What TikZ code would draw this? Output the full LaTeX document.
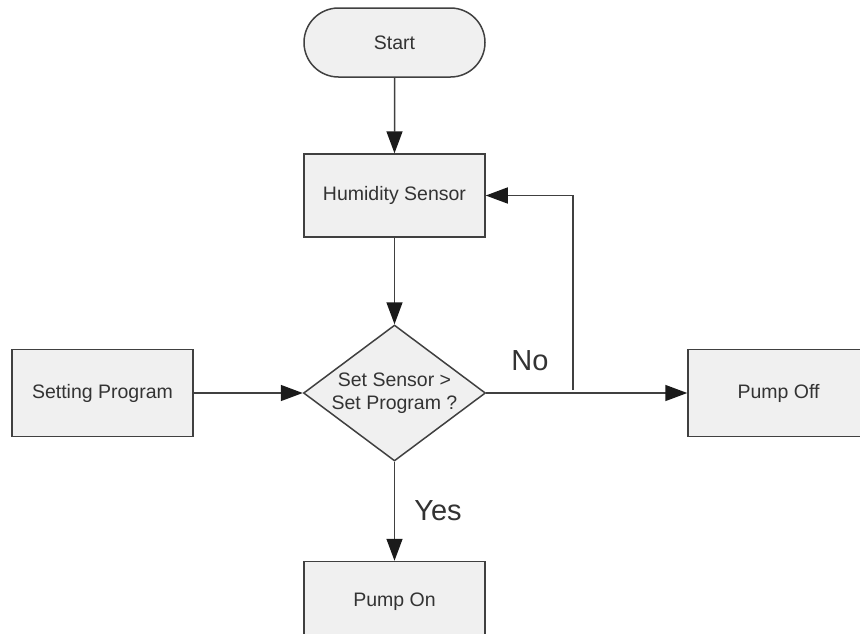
\documentclass[tikz,border=0pt]{standalone}
\usepackage{fontspec}
\setmainfont{Liberation Sans}
\usetikzlibrary{arrows.meta, shapes.geometric, shapes.misc}

\definecolor{boxfill}{HTML}{F0F0F0}
\definecolor{edgegray}{HTML}{404040}
\definecolor{tipgray}{HTML}{1A1A1A}
\definecolor{textgray}{HTML}{333333}

\begin{document}
\begin{tikzpicture}[x = 1pt, y = -1pt,
  box/.style = {draw = edgegray, fill = boxfill, line width = 1.5pt, inner sep = 0pt,
    minimum width = \boxW, minimum height = \boxH, text = textgray,
    font = \fontsize{19.5}{23.5}\selectfont},
  terminal/.style = {box, rounded rectangle, minimum height = 69pt},
  decision/.style = {box, diamond, aspect = 1.35, align = center,
    minimum width = 182pt, minimum height = 136pt},
  answer/.style = {inner sep = 0pt, text = textgray, font = \fontsize{29}{34}\selectfont},
  flow/.style = {draw = edgegray, line width = 1.5pt,
    -{Triangle[length = 22pt, width = 16pt, color = tipgray]}}]
\def\boxW{181pt}
\def\boxH{87pt}

\path[use as bounding box, fill = white] (0,0) rectangle (860,633);

%blocks
\node[terminal] (start) at (394.5, 42.5) {Start};
\node[box, minimum height = 83pt] (sensor) at (394.5, 195.5) {Humidity Sensor};
\node[decision] (check) at (394.5, 393) {Set Sensor >\\Set Program ?};
\node[box] (setting) at (102.5, 393) {Setting Program};
\node[box] (pumpoff) at (778.5, 393) {Pump Off};
\node[box, minimum height = 80pt] (pumpon) at (394.5, 601.5) {Pump On};

%draw edges
\draw[flow] (start) -- (sensor);
\draw[flow] (sensor) -- (check);
\draw[flow] (setting) -- (check);
\draw[flow] (check) -- (pumpoff);
\draw[flow] (check) -- (pumpon);
\coordinate (back) at (573, 390);
\draw[flow] (back) |- (sensor.east);

%label
\node[answer] (no) at (530, 360.5) {No};
\node[answer] (yes) at (438, 511) {Yes};

\end{tikzpicture}
\end{document}
